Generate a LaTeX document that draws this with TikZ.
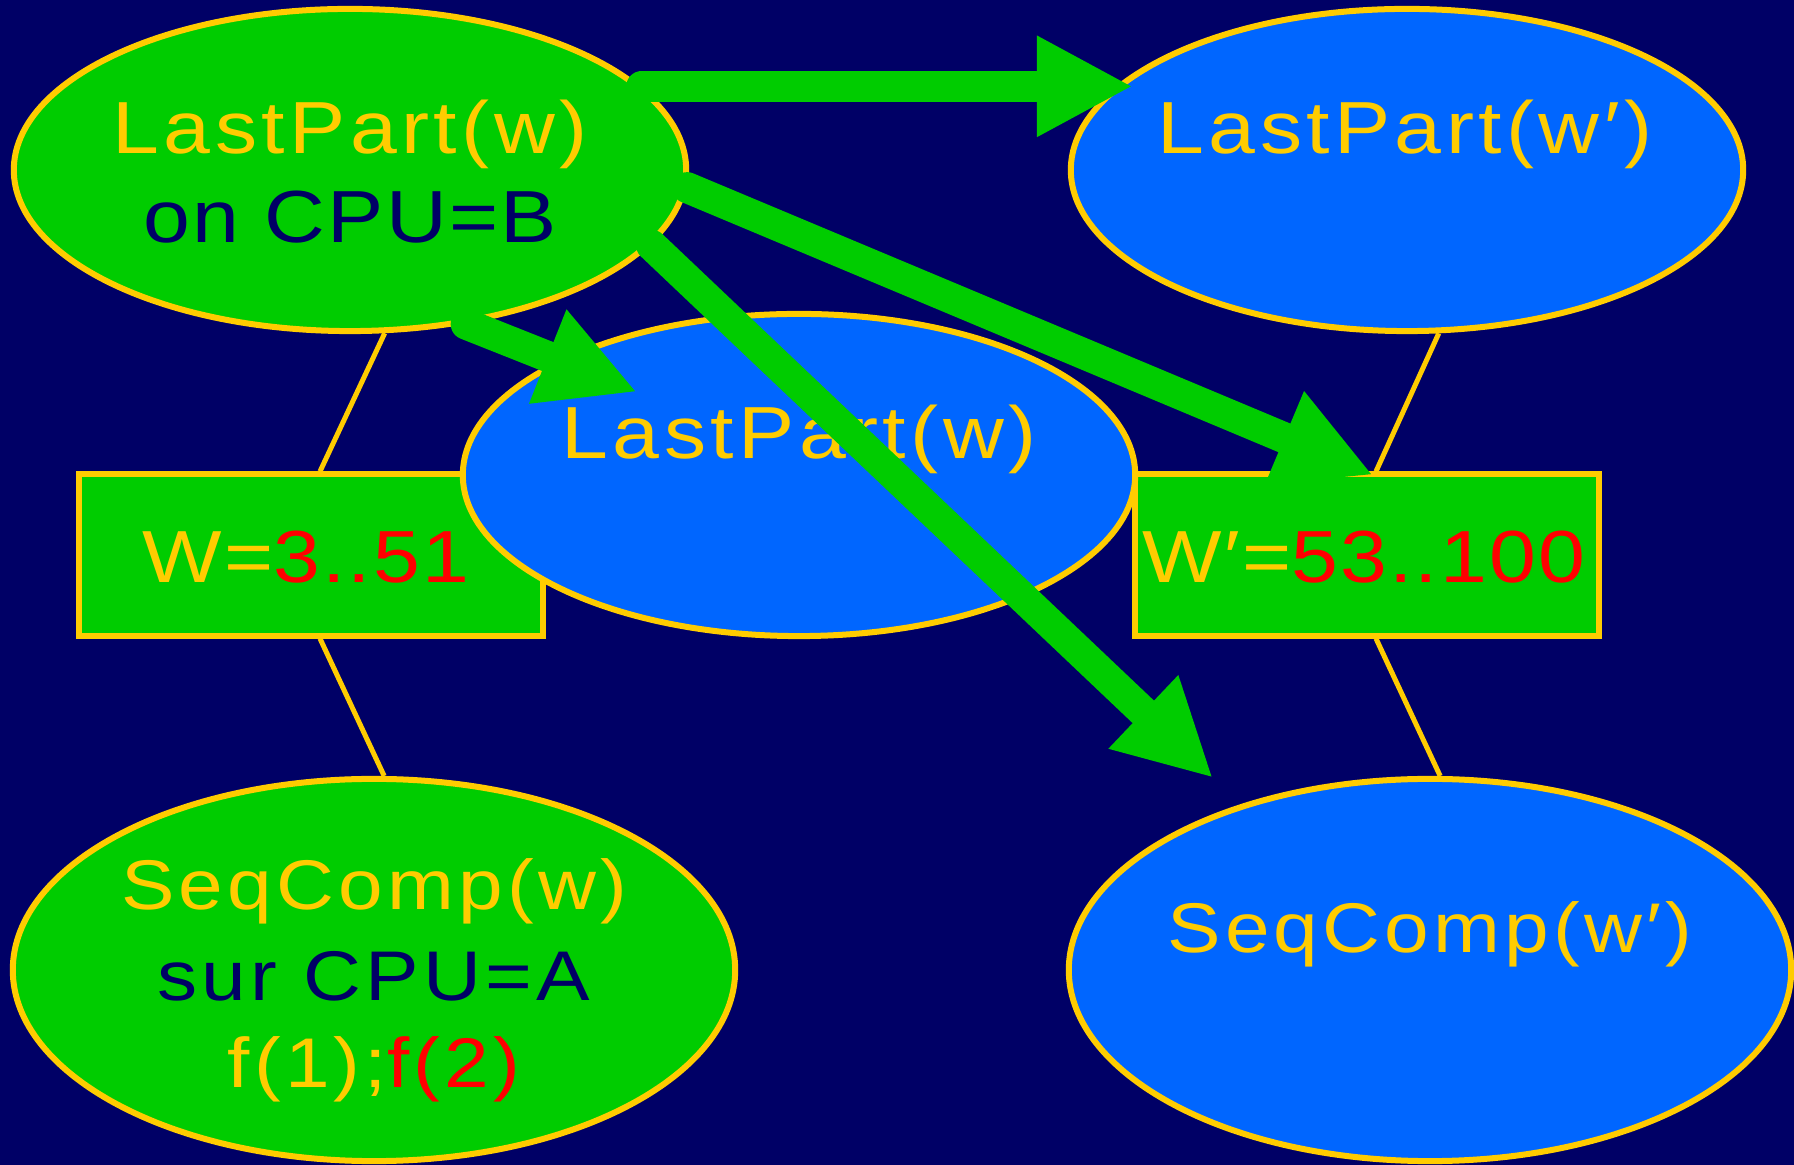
\documentclass[tikz,border=0pt]{standalone}
\usepackage{fontspec}
\setmainfont{Liberation Sans}[FakeStretch=1.14,LetterSpace=6]
\usetikzlibrary{arrows.meta,shapes.geometric,calc}
\definecolor{bg}{RGB}{0,0,102}
\definecolor{gr}{RGB}{0,204,0}
\definecolor{bl}{RGB}{0,102,255}
\definecolor{yl}{RGB}{255,204,0}
\definecolor{rd}{RGB}{255,0,0}
\begin{document}
\begin{tikzpicture}[x=0.01cm,y=-0.01cm,
  ell/.style={ellipse, draw=yl, line width=0.06cm, inner sep=0pt},
  ellA/.style={ell, minimum width=6.72cm, minimum height=3.22cm},
  ellD/.style={ell, minimum width=7.22cm, minimum height=3.82cm},
  wbox/.style={rectangle, draw=yl, fill=gr, line width=0.06cm, minimum width=4.64cm, minimum height=1.61cm, inner sep=0pt},
  yline/.style={draw=yl, line width=0.05cm},
  garrow/.style={draw=gr, line width=0.31cm, line cap=round, -{Triangle[length=0.96cm,width=0.94cm]}},
  big/.style={anchor=base, inner sep=0pt, font=\fontsize{21}{25}\selectfont},
  mid/.style={anchor=base, inner sep=0pt, font=\fontsize{20}{24}\selectfont},
  tight/.style={anchor=base, inner sep=0pt, font=\fontsize{21}{25}\selectfont\addfontfeatures{LetterSpace=3}}]
\fill[bg] (0,0) rectangle (1794,1165);
\useasboundingbox (0,0) rectangle (1794,1165);
% boxes
\node[wbox] (W) at (311,555) {};
\node[wbox] (Wp) at (1367,555) {};
% ellipses
\node[ellA, fill=gr] (A) at (350,170) {};
\node[ellA, fill=bl] (B) at (1407,170) {};
\node[ellA, fill=bl] (C) at (799,475) {};
\node[ellD, fill=gr] (D) at (374,970) {};
\node[ellD, fill=bl] (E) at (1430,970) {};
% connecting lines
\draw[yline] (A.-78) -- ($(W.north)+(9,0)$);
\draw[yline] ($(W.south)+(9,0)$) -- (D.87);
\draw[yline] (B.-79) -- ($(Wp.north)+(9,0)$);
\draw[yline] ($(Wp.south)+(9,0)$) -- (E.87);
% texts
\node[big, text=yl] (At1) at (350,154) {LastPart(w)};
\node[tight, text=bg] (At2) at (350,243) {on CPU=B};
\node[big, text=yl] (Bt) at (1405,154) {LastPart(w′)};
\node[big, text=yl] (Ct) at (799,459) {LastPart(w)};
\node[mid, text=yl] (Dt1) at (374,910) {SeqComp(w)};
\node[mid, text=bg] (Dt2) at (374,1001) {sur CPU=A};
\node[mid, text=yl] (Dt3) at (374,1087) {f(1);\textcolor{rd}{f(2)}};
\node[mid, text=yl] (Et) at (1430,953) {SeqComp(w′)};
\node[tight, text=yl] (Wt) at (306,583) {W=\textcolor{rd}{3..51}};
\node[tight, text=yl] (Wpt) at (1364,583) {W′=\textcolor{rd}{53..100}};
% arrows
\coordinate (t1) at (1133,90);
\coordinate (t2) at (1373,475);
\coordinate (t3) at (1213,778);
\coordinate (t4) at (637,392);
\draw[garrow] (A.16) -- (A.16 -| t1);
\draw[garrow] (A.-3) -- (t2);
\draw[garrow] (A.-14) -- (t3);
\draw[garrow] (A.-53) -- (t4);
\end{tikzpicture}
\end{document}
